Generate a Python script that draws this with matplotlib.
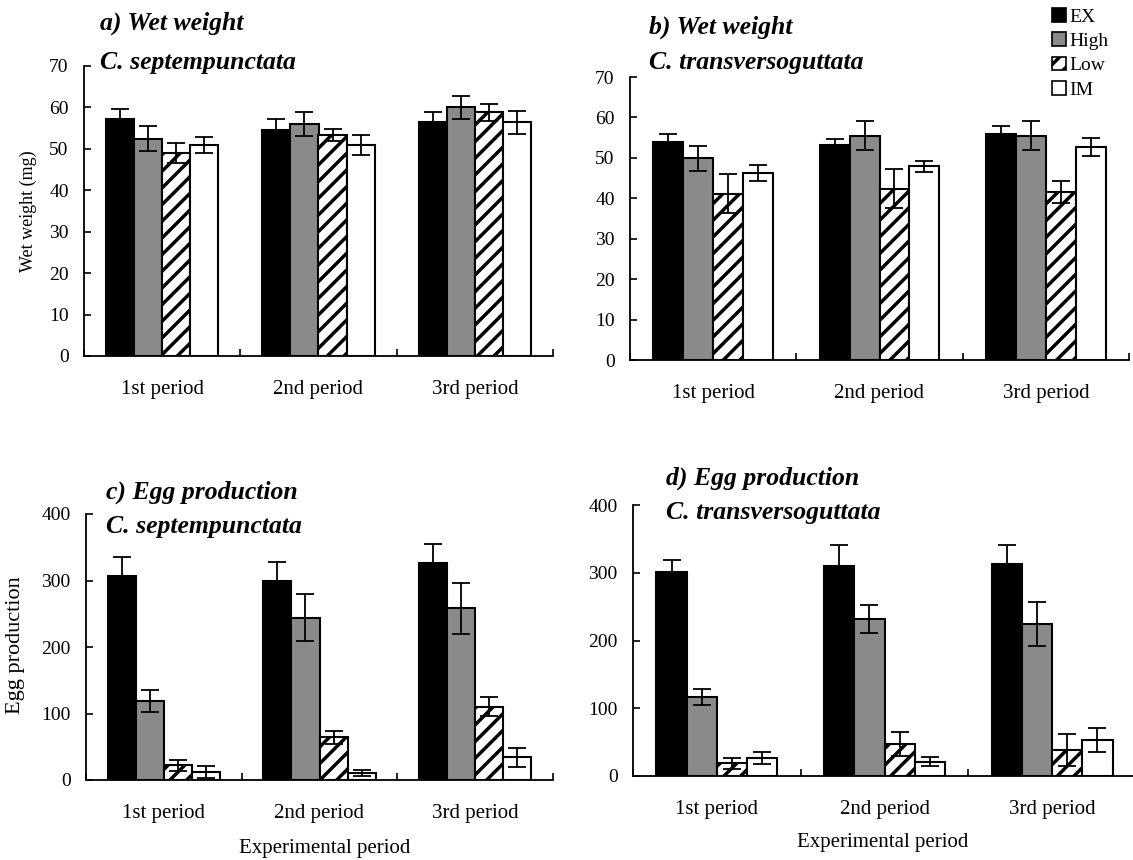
import matplotlib
matplotlib.use("Agg")
import matplotlib.pyplot as plt
import matplotlib.patches as mpatches
import numpy as np

plt.rcParams['font.family'] = ['Liberation Serif', 'DejaVu Serif']
plt.rcParams['hatch.linewidth'] = 2.5

# data: rows = EX, High, Low, IM; columns = periods
periods = ['1st period', '2nd period', '3rd period']
treatments = ['EX', 'High', 'Low', 'IM']

wet_sept_mean = [[57.3, 54.5, 56.5], [52.5, 56.0, 60.0], [49.0, 53.3, 58.8], [50.9, 50.9, 56.4]]
wet_sept_err = [[2.3, 2.7, 2.3], [3.1, 2.8, 2.7], [2.4, 1.5, 2.0], [2.0, 2.4, 2.7]]

wet_trans_mean = [[54.0, 53.2, 55.9], [49.9, 55.5, 55.5], [41.1, 42.4, 41.6], [46.3, 47.9, 52.7]]
wet_trans_err = [[2.0, 1.5, 2.0], [3.1, 3.6, 3.6], [4.8, 4.8, 2.7], [2.0, 1.3, 2.3]]

egg_sept_mean = [[307, 300, 326], [119, 244, 258], [22, 64, 110], [12.5, 10.5, 34]]
egg_sept_err = [[28, 28, 28.5], [17, 35.6, 38], [8, 10, 14.5], [9, 4.5, 14.5]]

egg_trans_mean = [[300.6, 310, 312.4], [116.6, 231.7, 224.4], [18.7, 47.2, 38.4], [26.6, 21.2, 53.1]]
egg_trans_err = [[18.7, 30.5, 28.6], [11.8, 20.7, 33], [8, 17.3, 23], [9, 7, 18.2]]

# styles per treatment
faces = ['black', '#8a8a8a', 'white', 'white']
hatches = [None, None, '//', None]

W, H = 1133, 860
fig = plt.figure(figsize=(W / 100, H / 100), dpi=100)


def box(left, right, bottom, top):
    # pixel box -> figure fraction rect
    return [left / W, 1 - bottom / H, (right - left) / W, (bottom - top) / H]


def panel(rect, means, errs, ymax, ystep):
    ax = fig.add_axes(rect)
    x = np.arange(len(periods)) + 0.5
    w = 0.18
    for i in range(len(treatments)):
        pos = x + (i - 1.5) * w
        ax.bar(pos, means[i], w, color=faces[i], edgecolor='black',
               linewidth=1.5, hatch=hatches[i], zorder=2)
        ax.errorbar(pos, means[i], yerr=errs[i], fmt='none', ecolor='black',
                    elinewidth=1.3, capsize=6.5, capthick=1.3, zorder=3)
    ax.set_xlim(0, 3)
    ax.set_ylim(0, ymax)
    ax.set_yticks(np.arange(0, ymax + 1, ystep))
    ax.set_xticks([0, 1, 2, 3])
    ax.set_xticklabels([])
    ax.set_xticks(x, minor=True)
    ax.set_xticklabels(periods, minor=True)
    ax.tick_params(axis='x', which='major', direction='in', length=5, width=1.2)
    ax.tick_params(axis='x', which='minor', length=0, pad=17, labelsize=15)
    ax.tick_params(axis='y', direction='in', length=5, width=1.2, pad=11, labelsize=14)
    for s in ['top', 'right']:
        ax.spines[s].set_visible(False)
    for s in ['left', 'bottom']:
        ax.spines[s].set_linewidth(1.3)
    return ax


panel(box(84, 553, 356, 66), wet_sept_mean, wet_sept_err, 70, 10)
panel(box(630, 1129, 360, 77), wet_trans_mean, wet_trans_err, 70, 10)
panel(box(86, 553, 780, 514), egg_sept_mean, egg_sept_err, 400, 100)
panel(box(633, 1136, 776, 505), egg_trans_mean, egg_trans_err, 400, 100)

# panel titles
tkw = dict(fontsize=18.5, fontweight='bold', fontstyle='italic', ha='left', va='center')
fig.text(100 / W, 1 - 23 / H, 'a) Wet weight', **tkw)
fig.text(100 / W, 1 - 62 / H, 'C. septempunctata', **tkw)
fig.text(649 / W, 1 - 27 / H, 'b) Wet weight', **tkw)
fig.text(649 / W, 1 - 62 / H, 'C. transversoguttata', **tkw)
fig.text(106 / W, 1 - 492 / H, 'c) Egg production', **tkw)
fig.text(106 / W, 1 - 527 / H, 'C. septempunctata', **tkw)
fig.text(666 / W, 1 - 478 / H, 'd) Egg production', **tkw)
fig.text(666 / W, 1 - 513 / H, 'C. transversoguttata', **tkw)

# axis titles
fig.text(28 / W, 1 - 211 / H, 'Wet weight (mg)', rotation=90, fontsize=13, ha='center', va='center')
fig.text(16 / W, 1 - 645 / H, 'Egg production', rotation=90, fontsize=16, ha='center', va='center')
fig.text(325 / W, 1 - 848 / H, 'Experimental period', fontsize=15, ha='center', va='center')
fig.text(883 / W, 1 - 843 / H, 'Experimental period', fontsize=15, ha='center', va='center')

# legend
handles = [mpatches.Patch(facecolor=faces[i], edgecolor='black', hatch=hatches[i],
                          linewidth=1.2, label=treatments[i]) for i in range(4)]
fig.legend(handles=handles, loc='upper left', bbox_to_anchor=(1052 / W, 1 - 8 / H),
           frameon=False, fontsize=14, handlelength=0.7, handleheight=0.7,
           handletextpad=0.2, labelspacing=0.35, borderpad=0, borderaxespad=0)

fig.savefig('out.png', dpi=100)
